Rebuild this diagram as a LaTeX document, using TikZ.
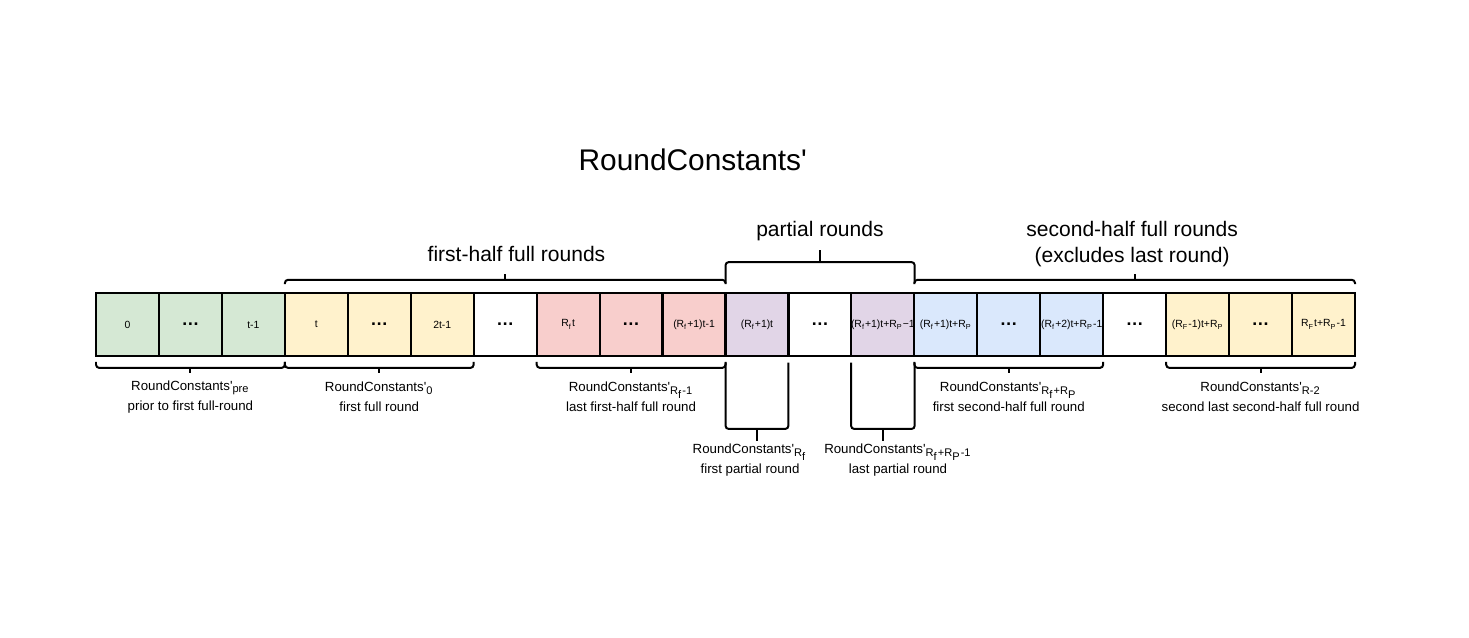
\documentclass[tikz,border=0pt]{standalone}
\usepackage{fontspec}
\setmainfont{Liberation Sans}

\definecolor{fullgreen}{HTML}{D5E8D4}
\definecolor{fullyellow}{HTML}{FFF2CC}
\definecolor{fullred}{HTML}{F8CECC}
\definecolor{partpurple}{HTML}{E1D5E7}
\definecolor{fullblue}{HTML}{DAE8FC}

\newcommand{\rcname}{RoundConstants\textquotesingle}

\begin{document}
\begin{tikzpicture}[
  cell/.style={draw,line width=1pt,minimum width=1cm,minimum height=1cm,
    inner sep=0pt,outer sep=0pt,font=\fontsize{4.7}{5.5}\selectfont},
  dotcell/.style={cell,font=\fontsize{8}{9}\selectfont\bfseries},
  brace/.style={line width=0.9pt,rounded corners=1.5pt},
  bigtext/.style={font=\fontsize{9.5}{11.8}\selectfont,align=center},
  smalltext/.style={font=\fontsize{6}{9}\selectfont,align=center}
]

\useasboundingbox (-1.525,-4.48) rectangle (21.811,5.655);

\node[font=\fontsize{13.5}{16}\selectfont] (title) at (9.48,3.11) {\rcname};

%------------------------------------------------
% Constant cells
%------------------------------------------------
\node[cell,fill=fullgreen] (c1) at (0.5,0.5) {0};
\node[dotcell,fill=fullgreen] (c2) at (1.5,0.5) {…};
\node[cell,fill=fullgreen] (c3) at (2.5,0.5) {t-1};

\node[cell,fill=fullyellow] (c4) at (3.5,0.5) {t};
\node[dotcell,fill=fullyellow] (c5) at (4.5,0.5) {…};
\node[cell,fill=fullyellow] (c6) at (5.5,0.5) {2t-1};

\node[dotcell] (c7) at (6.5,0.5) {…};

\node[cell,fill=fullred] (c8) at (7.5,0.5) {R\textsubscript{f}t};
\node[dotcell,fill=fullred] (c9) at (8.5,0.5) {…};
\node[cell,fill=fullred] (c10) at (9.5,0.5) {(R\textsubscript{f}+1)t-1};

\node[cell,fill=partpurple] (c11) at (10.5,0.5) {(R\textsubscript{f}+1)t};
\node[dotcell] (c12) at (11.5,0.5) {…};
\node[cell,fill=partpurple] (c13) at (12.5,0.5) {(R\textsubscript{f}+1)t+R\textsubscript{P}−1};

\node[cell,fill=fullblue] (c14) at (13.5,0.5) {(R\textsubscript{f}+1)t+R\textsubscript{P}};
\node[dotcell,fill=fullblue] (c15) at (14.5,0.5) {…};
\node[cell,fill=fullblue] (c16) at (15.5,0.5) {(R\textsubscript{f}+2)t+R\textsubscript{P}-1};

\node[dotcell] (c17) at (16.5,0.5) {…};

\node[cell,fill=fullyellow] (c18) at (17.5,0.5) {(R\textsubscript{F}-1)t+R\textsubscript{P}};
\node[dotcell,fill=fullyellow] (c19) at (18.5,0.5) {…};
\node[cell,fill=fullyellow] (c20) at (19.5,0.5) {R\textsubscript{F}t+R\textsubscript{P}-1};

%------------------------------------------------
% Braces above
%------------------------------------------------
% first-half full rounds
\draw[brace] ([yshift=4pt]c4.north west) |- ([yshift=6pt]c10.north east) -- ([yshift=4pt]c10.north east);
\draw[brace] ([yshift=6pt]c7.north) -- ([yshift=8.5pt]c7.north);
\node[bigtext] (firsthalf) at (6.68,1.62) {first-half full rounds};

% partial rounds
\draw[brace] ([yshift=4.5pt]c11.north west) |- ([yshift=14pt]c13.north east) -- ([yshift=4.5pt]c13.north east);
\draw[brace] ([yshift=14pt]c12.north) -- ([yshift=19.3pt]c12.north);
\node[bigtext] (partial) at (11.5,1.99) {partial rounds};

% second-half full rounds
\draw[brace] ([yshift=4pt]c14.north west) |- ([yshift=6pt]c20.north east) -- ([yshift=4pt]c20.north east);
\draw[brace] ([yshift=6pt]c17.north) -- ([yshift=8.5pt]c17.north);
\node[bigtext] (secondhalf) at (16.46,1.78) {second-half full rounds\\(excludes last round)};

%------------------------------------------------
% Braces below
%------------------------------------------------
\draw[brace] ([yshift=-2.7pt]c1.south west) |- ([yshift=-5.4pt]c3.south east) -- ([yshift=-2.7pt]c3.south east);
\draw[brace] ([yshift=-5.4pt]c2.south) -- ([yshift=-7.7pt]c2.south);
\node[smalltext] (pre) at (1.5,-0.65) {\rcname\textsubscript{pre}\\prior to first full-round};

\draw[brace] ([yshift=-2.7pt]c4.south west) |- ([yshift=-5.4pt]c6.south east) -- ([yshift=-2.7pt]c6.south east);
\draw[brace] ([yshift=-5.4pt]c5.south) -- ([yshift=-7.7pt]c5.south);
\node[smalltext] (round0) at (4.5,-0.65) {\rcname\textsubscript{0}\\first full round};

\draw[brace] ([yshift=-2.7pt]c8.south west) |- ([yshift=-5.4pt]c10.south east) -- ([yshift=-2.7pt]c10.south east);
\draw[brace] ([yshift=-5.4pt]c9.south) -- ([yshift=-7.7pt]c9.south);
\node[smalltext] (lastfirst) at (8.5,-0.65) {\rcname\textsubscript{R\textsubscript{f}-1}\\last first-half full round};

% partial rounds, one cell each
\draw[brace] ([yshift=-3pt]c11.south west) |- ([yshift=-33pt]c11.south east) -- ([yshift=-3pt]c11.south east);
\draw[brace] ([yshift=-33pt]c11.south) -- ([yshift=-38.4pt]c11.south);
\node[smalltext] (firstpart) at (10.39,-1.65) {\rcname\textsubscript{R\textsubscript{f}}\\first partial round};

\draw[brace] ([yshift=-3pt]c13.south west) |- ([yshift=-33pt]c13.south east) -- ([yshift=-3pt]c13.south east);
\draw[brace] ([yshift=-33pt]c13.south) -- ([yshift=-38.4pt]c13.south);
\node[smalltext] (lastpart) at (12.74,-1.65) {\rcname\textsubscript{R\textsubscript{f}+R\textsubscript{P}-1}\\last partial round};

\draw[brace] ([yshift=-2.7pt]c14.south west) |- ([yshift=-5.4pt]c16.south east) -- ([yshift=-2.7pt]c16.south east);
\draw[brace] ([yshift=-5.4pt]c15.south) -- ([yshift=-7.7pt]c15.south);
\node[smalltext] (firstsecond) at (14.5,-0.65) {\rcname\textsubscript{R\textsubscript{f}+R\textsubscript{P}}\\first second-half full round};

\draw[brace] ([yshift=-2.7pt]c18.south west) |- ([yshift=-5.4pt]c20.south east) -- ([yshift=-2.7pt]c20.south east);
\draw[brace] ([yshift=-5.4pt]c19.south) -- ([yshift=-7.7pt]c19.south);
\node[smalltext] (secondlast) at (18.5,-0.65) {\rcname\textsubscript{R-2}\\second last second-half full round};

\end{tikzpicture}
\end{document}
